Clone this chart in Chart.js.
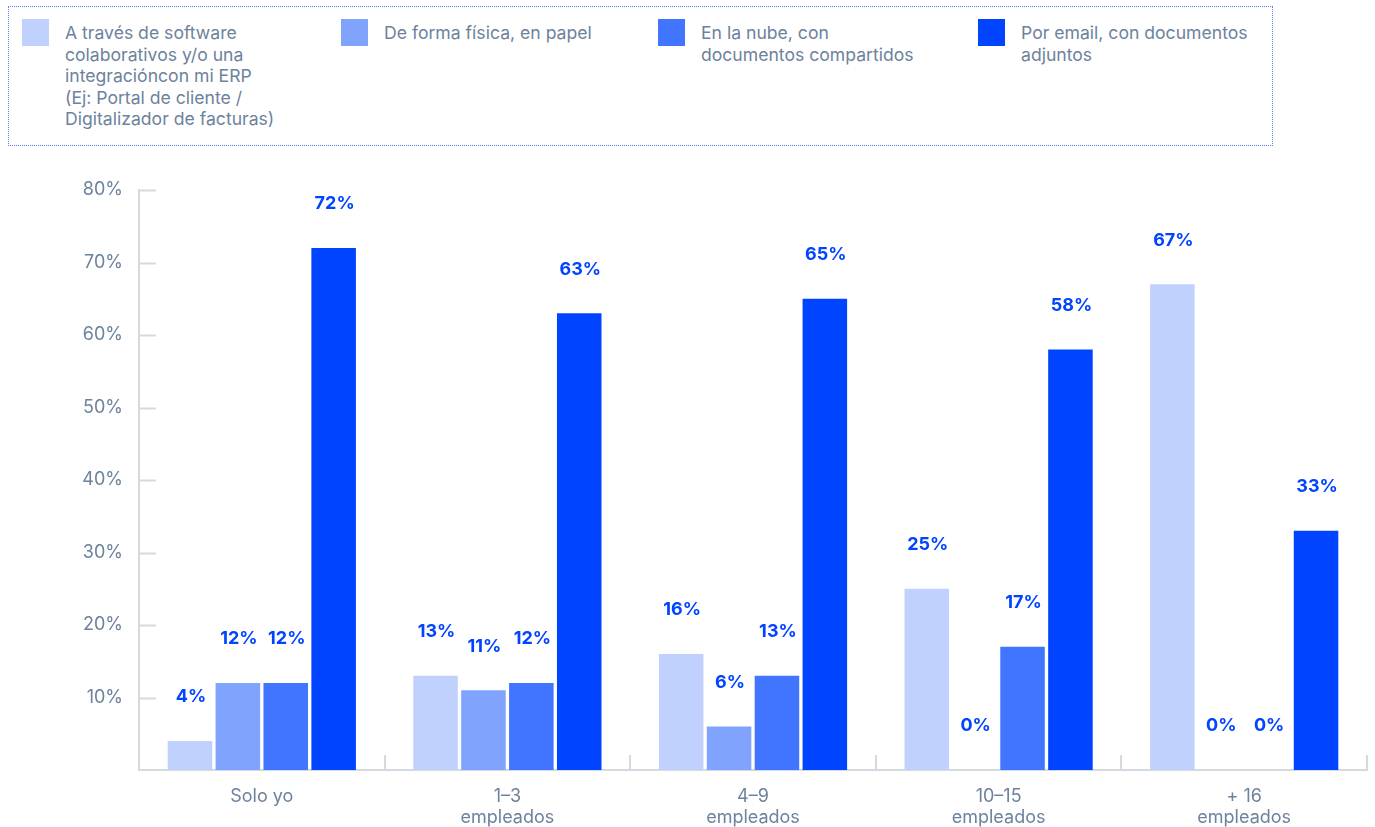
<!DOCTYPE html>
<html lang="es">
<head>
  <meta charset="UTF-8">
  <title>Envío de facturas por tamaño de empresa</title>
  <script src="https://cdn.jsdelivr.net/npm/chart.js"></script>
  <style>
    body {
      margin: 0;
      width: 1375px;
      height: 827px;
      position: relative;
      background: #fff;
      font-family: Inter, "Noto Sans", sans-serif;
      overflow: hidden;
    }
    #legend {
      position: absolute;
      left: 8px;
      top: 6px;
      width: 1265px;
      height: 140px;
      border: 1px dotted #5b7cf5;
      box-sizing: border-box;
    }
    .item {
      position: absolute;
      top: 12px;
    }
    .item .box {
      position: absolute;
      left: 0;
      top: 0;
      width: 27px;
      height: 27px;
    }
    .item .txt {
      position: absolute;
      left: 43px;
      top: 3px;
      font-size: 17.6px;
      line-height: 21.5px;
      color: #6d829c;
      white-space: nowrap;
    }
    #wrap {
      position: absolute;
      left: 0;
      top: 160px;
      width: 1375px;
      height: 667px;
    }
  </style>
</head>
<body>
  <div id="legend"></div>
  <div id="wrap"><canvas id="chart"></canvas></div>

  <script>
    const categories = ['Solo yo', ['1–3', 'empleados'], ['4–9', 'empleados'], ['10–15', 'empleados'], ['+ 16', 'empleados']];
    const seriesNames = [
      ['A través de software', 'colaborativos y/o una', 'integracióncon mi ERP', '(Ej: Portal de cliente /', 'Digitalizador de facturas)'],
      ['De forma física, en papel'],
      ['En la nube, con', 'documentos compartidos'],
      ['Por email, con documentos', 'adjuntos']
    ];
    const software = [4, 13, 16, 25, 67];
    const papel = [12, 11, 6, 0, 0];
    const nube = [12, 12, 13, 17, 0];
    const email = [72, 63, 65, 58, 33];
    const yTicks = [10, 20, 30, 40, 50, 60, 70, 80];

    const colors = ['#c1d1fd', '#80a3fe', '#4175ff', '#0044ff'];
    const values = [software, papel, nube, email];
    const legendX = [13, 332, 649, 969];
    const font = 'Inter, "Noto Sans", sans-serif';

    // legend built as html so the long labels can wrap
    const legend = document.getElementById('legend');
    seriesNames.forEach((lines, i) => {
      const item = document.createElement('div');
      item.className = 'item';
      item.style.left = legendX[i] + 'px';
      item.innerHTML = `<div class="box" style="background:${colors[i]}"></div><div class="txt">${lines.join('<br>')}</div>`;
      legend.appendChild(item);
    });

    const axisColor = '#d5dae0';
    const labelColor = '#6d829c';

    // value labels above each bar + short inward ticks
    const extras = {
      id: 'extras',
      afterDatasetsDraw(chart) {
        const ctx = chart.ctx;
        const x = chart.scales.x, y = chart.scales.y;
        ctx.save();
        ctx.strokeStyle = axisColor;
        ctx.lineWidth = 2;
        yTicks.forEach(v => {
          const py = Math.round(y.getPixelForValue(v)) + 0.5;
          ctx.beginPath();
          ctx.moveTo(x.left, py);
          ctx.lineTo(x.left + 17, py);
          ctx.stroke();
        });
        const n = categories.length;
        for (let i = 1; i <= n; i++) {
          const px = Math.round(x.getPixelForValue(i - 0.5));
          ctx.beginPath();
          ctx.moveTo(px, y.bottom);
          ctx.lineTo(px, y.bottom - 15);
          ctx.stroke();
        }
        ctx.fillStyle = '#0044ff';
        ctx.font = 'bold 18px ' + font;
        ctx.textAlign = 'center';
        ctx.textBaseline = 'middle';
        chart.data.datasets.forEach((ds, di) => {
          chart.getDatasetMeta(di).data.forEach((bar, bi) => {
            ctx.fillText(ds.data[bi] + '%', bar.x + 1, bar.y - 44);
          });
        });
        ctx.restore();
      }
    };

    const ctx = document.getElementById('chart').getContext('2d');
    new Chart(ctx, {
      type: 'bar',
      data: {
        labels: categories,
        datasets: values.map((d, i) => ({
          label: seriesNames[i].join(' '),
          data: d,
          backgroundColor: colors[i],
          borderWidth: 0,
          categoryPercentage: 0.78,
          barPercentage: 0.93
        }))
      },
      options: {
        responsive: true,
        maintainAspectRatio: false,
        animation: false,
        layout: { padding: { top: 30, right: 8, left: 0, bottom: 0 } },
        plugins: {
          legend: { display: false },
          tooltip: { enabled: false }
        },
        scales: {
          x: {
            afterFit(scale) { scale.height = 57; },
            grid: { display: false, drawTicks: false },
            border: { display: true, color: axisColor, width: 2 },
            ticks: {
              color: labelColor,
              padding: 17,
              font: { family: font, size: 18, lineHeight: 1.12 }
            }
          },
          y: {
            min: 0,
            max: 80,
            afterFit(scale) { scale.width = 139; },
            grid: { display: false, drawTicks: false },
            border: { display: true, color: axisColor, width: 2 },
            afterBuildTicks(scale) {
              scale.ticks = [0].concat(yTicks).map(v => ({ value: v }));
            },
            ticks: {
              color: labelColor,
              padding: 16,
              font: { family: font, size: 18 },
              callback: v => v === 0 ? '' : v + '%'
            }
          }
        }
      },
      plugins: [extras]
    });
  </script>
</body>
</html>
